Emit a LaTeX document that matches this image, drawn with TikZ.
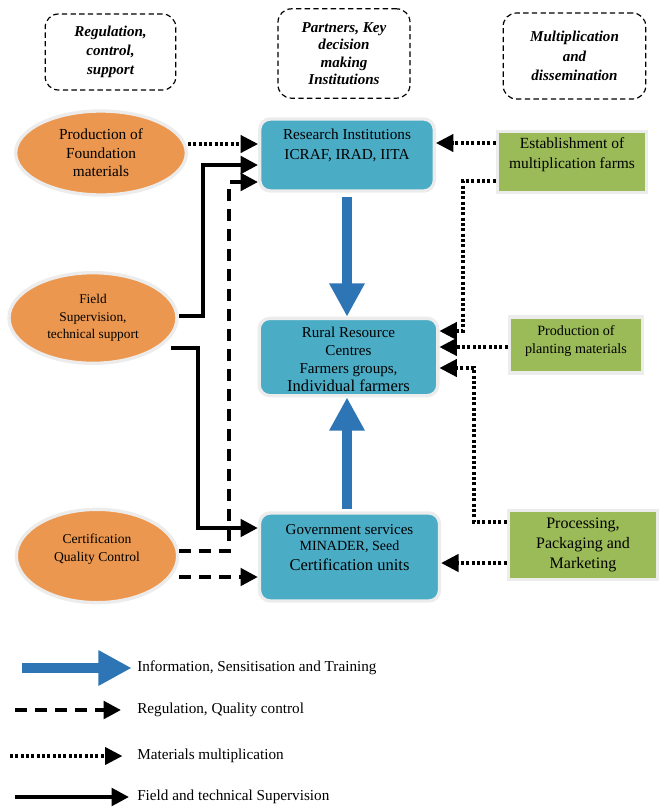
\documentclass[tikz,border=0pt]{standalone}
\usepackage{fontspec}
\setmainfont{Liberation Serif}
\usetikzlibrary{shapes.geometric,arrows.meta}

\definecolor{orangefill}{RGB}{236,151,79}
\definecolor{bluefill}{RGB}{75,172,198}
\definecolor{greenfill}{RGB}{155,187,89}
\definecolor{arrowblue}{RGB}{46,117,182}
\definecolor{rimgray}{RGB}{236,236,236}

\tikzset{
  headbox/.style={draw, line width=0.9pt, dash pattern=on 4pt off 2.5pt, rounded corners=10pt,
    align=center, font=\fontsize{11.3}{14.5}\selectfont\bfseries\itshape},
  partner/.style={ellipse, fill=orangefill, draw=rimgray, line width=2.5pt, inner sep=0pt, align=center},
  inst/.style={rectangle, rounded corners=8pt, fill=bluefill, draw=rimgray, line width=2.5pt, align=center},
  multi/.style={rectangle, fill=greenfill, draw=rimgray, line width=2.5pt, align=center},
  boxtext/.style={align=center, inner sep=0pt},
  tip/.style={-{Triangle[length=13pt,width=13pt]}},
  dotline/.style={tip, line width=2.3pt, dash pattern=on 2.3pt off 1.7pt},
  dashline/.style={tip, line width=3pt, dash pattern=on 9pt off 6pt},
  fieldline/.style={tip, line width=3pt},
  infoline/.style={arrowblue, line width=8pt, -{Triangle[length=25pt,width=25pt]}},
  legtext/.style={anchor=west, inner sep=0pt, font=\fontsize{11.4}{13}\selectfont}
}

\begin{document}
\begin{tikzpicture}[x=0.75pt,y=-0.75pt, font=\fontsize{11.4}{15}\selectfont]
\useasboundingbox (0,0) rectangle (658,808);

% column heads
\node[headbox, minimum width=98pt, minimum height=57pt] (hreg) at (110.5,52) {Regulation,\\control,\\support};
\node[headbox, minimum width=99pt, minimum height=67pt, font=\fontsize{11.3}{13}\selectfont\bfseries\itshape] (hpart) at (344,53.5)
  {Partners, Key\\decision\\making\\Institutions};
\node[headbox, minimum width=107pt, minimum height=64.5pt] (hmult) at (574.5,56) {Multiplication\\and\\dissemination};

% regulation side
\node[partner, minimum width=128pt, minimum height=63pt, font=\fontsize{11.5}{14}\selectfont] (found) at (101,153)
  {Production of\\Foundation\\materials};
\node[partner, minimum width=126pt, minimum height=68pt, font=\fontsize{10}{13}\selectfont] (field) at (93,318)
  {Field\\Supervision,\\technical support};
\node[partner, minimum width=121pt, minimum height=70pt] (cert) at (97,556) {};
\node[boxtext, font=\fontsize{10.2}{13.5}\selectfont] (certtext) at (97,549) {Certification\\Quality Control};

% institutions
\node[inst, minimum width=131pt, minimum height=54pt] (research) at (347,155) {};
\node[boxtext] (researchtext) at (347,145) {Research Institutions\\ICRAF, IRAD, IITA};
\node[inst, minimum width=134pt, minimum height=58pt] (rural) at (348.5,357) {};
\node[boxtext, font=\fontsize{11.3}{13.5}\selectfont] (ruraltext) at (348.5,359)
  {Rural Resource\\Centres\\Farmers groups,\\{\fontsize{12.4}{14}\selectfont Individual farmers}};
\node[inst, minimum width=135pt, minimum height=66pt] (gov) at (349.5,557) {};
\node[boxtext, font=\fontsize{11.3}{12}\selectfont] (govtext) at (349.5,548)
  {Government services\\{\fontsize{10.5}{12}\selectfont MINADER, Seed}\\[3pt]{\fontsize{12.4}{14}\selectfont Certification units}};

% multiplication side
\node[multi, minimum width=112pt, minimum height=46pt] (estab) at (572,162) {};
\node[boxtext, font=\fontsize{11.6}{15}\selectfont] (estabtext) at (572,155) {Establishment of\\multiplication farms};
\node[multi, minimum width=100pt, minimum height=42pt] (plant) at (576,345) {};
\node[boxtext, font=\fontsize{10.6}{14}\selectfont] (planttext) at (576,341) {Production of\\planting materials};
\node[multi, minimum width=112pt, minimum height=52pt, font=\fontsize{12}{15}\selectfont] (proc) at (583,545)
  {Processing,\\Packaging and\\Marketing};

% information flow
\draw[infoline, shorten <=3pt] (research.south) -- (rural.north -| research.south);
\draw[infoline, shorten <=2pt] (gov.north -| research.south) -- (rural.south -| research.south);

% left connectors
\coordinate (fieldout) at (171,348);
\draw[dotline] (found.east |- 0,144) -- (research.west |- 0,144);
\draw[fieldline] (field.east |- 0,316) -| (203,165) -- (research.west |- 0,165);
\draw[fieldline] (fieldout) -- (198,348) |- (gov.west |- 0,528);
\draw[dashline] (cert.east |- 0,551) -| (229,182) -- (research.west |- 0,182);
\draw[dashline] (cert.east |- 0,577) -- (gov.west |- 0,577);

% right connectors
\draw[dotline] (estab.west |- 0,143) -- (research.east |- 0,143);
\draw[dotline] (estab.west |- 0,181) -| (463,331) -- (rural.east |- 0,331);
\draw[dotline] (plant.west |- 0,347) -- (rural.east |- 0,347);
\draw[dotline] (proc.west |- 0,522) -| (474,368) -- (rural.east |- 0,368);
\draw[dotline] (proc.west |- 0,563) -- (gov.east |- 0,563);

% legend
\foreach \sty/\xs/\yy/\gap/\lab/\txt in {
  infoline/22/668/4/info/{Information, Sensitisation and Training},
  dashline/15/710/12/reg/{Regulation, Quality control},
  dotline/10/756/11/mat/{Materials multiplication},
  fieldline/15/797/6/fld/{Field and technical Supervision}} {
\node[legtext] (leg\lab) at (137,\yy) {\txt};
\coordinate (start\lab) at (\xs,\yy);
\draw[\sty] (start\lab) -- ([xshift=-\gap pt]leg\lab.west);
}

\end{tikzpicture}
\end{document}
